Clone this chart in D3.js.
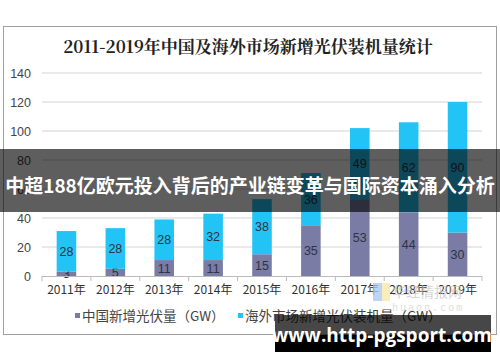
<!DOCTYPE html>
<html>
<head>
<meta charset="utf-8">
<script src="https://cdn.jsdelivr.net/npm/d3@7"></script>
<style>
  body { margin: 0; background: #fff; }
  svg { display: block; }
</style>
</head>
<body>
<svg id="chart"></svg>
<script>
// chart data
const years = ["2011年", "2012年", "2013年", "2014年", "2015年", "2016年", "2017年", "2018年", "2019年"];
const china_gw = [3, 5, 11, 11, 15, 35, 53, 44, 30];
const overseas_gw = [28, 28, 28, 32, 38, 36, 49, 62, 90];
const y_ticks = [0, 20, 40, 60, 80, 100, 120, 140];
const series_names = ["中国新增光伏量（GW）", "海外市场新增光伏装机量（GW）"];
const series_colors = ["#7a7ca6", "#22c3f5"];

const chart_title = "2011-2019年中国及海外市场新增光伏装机量统计";
const banner_text = "中超188亿欧元投入背后的产业链变革与国际资本涌入分析";
const site_text = "www.http-pgsport.com";

const width = 500, height = 362;
const cjk = "'Noto Sans CJK SC', 'Noto Sans', sans-serif";

var svg = d3.select("#chart")
            .attr("width", width)
            .attr("height", height);

// outer frame of the picture
svg.append("rect")
   .attr("x", 3.5).attr("y", 26.5)
   .attr("width", 493).attr("height", 308)
   .attr("fill", "#fff")
   .attr("stroke", "#a0a0a0");

svg.append("text")
   .attr("x", 248).attr("y", 53)
   .attr("text-anchor", "middle")
   .attr("font-family", "'Noto Serif CJK SC', 'Noto Sans CJK SC', serif")
   .attr("font-weight", "bold")
   .attr("font-size", 17)
   .attr("fill", "#222")
   .text(chart_title);

let x = d3.scaleBand()
          .domain(years)
          .range([42, 482])
          .paddingInner(0.6)
          .paddingOuter(0.3);

let y = d3.scaleLinear()
          .domain([0, 140])
          .range([276, 73]);

// gridlines
svg.append("g")
   .selectAll("line")
   .data(y_ticks.filter(d => d > 0))
   .enter()
   .append("line")
   .attr("x1", 42).attr("x2", 482)
   .attr("y1", d => y(d)).attr("y2", d => y(d))
   .attr("stroke", "#d4d4d4")
   .attr("stroke-width", 1.2);

// y labels
svg.append("g")
   .selectAll("text")
   .data(y_ticks)
   .enter()
   .append("text")
   .attr("x", 31)
   .attr("y", d => y(d) + 4.5)
   .attr("text-anchor", "end")
   .attr("font-family", "Arial, 'Liberation Sans', sans-serif")
   .attr("font-size", 12.5)
   .attr("fill", "#444")
   .text(d => d);

// stacked bars
let stack_rows = years.map((yr, i) => ({ year: yr, china: china_gw[i], overseas: overseas_gw[i] }));
let stacked = d3.stack().keys(["china", "overseas"])(stack_rows);

let layers = svg.append("g")
   .selectAll("g")
   .data(stacked)
   .enter()
   .append("g")
   .attr("fill", (d, i) => series_colors[i]);

layers.selectAll("rect")
   .data(d => d)
   .enter()
   .append("rect")
   .attr("x", d => x(d.data.year))
   .attr("width", x.bandwidth())
   .attr("y", d => y(d[1]))
   .attr("height", d => y(d[0]) - y(d[1]));

layers.selectAll("text")
   .data(d => d)
   .enter()
   .append("text")
   .attr("x", d => x(d.data.year) + x.bandwidth() / 2)
   .attr("y", d => (y(d[0]) + y(d[1])) / 2 + 4.5)
   .attr("text-anchor", "middle")
   .attr("font-family", "Arial, 'Liberation Sans', sans-serif")
   .attr("font-size", 12.5)
   .attr("fill", "#2f3440")
   .text(d => d[1] - d[0]);

// x axis
let x_axis = d3.axisBottom(x).tickSize(0).tickPadding(9);
let ax_g = svg.append("g")
   .attr("transform", "translate(0,276)")
   .call(x_axis);
ax_g.select(".domain").attr("stroke", "#bcbcbc").attr("d", "M42,0.5H482");
ax_g.selectAll("text")
   .attr("font-family", cjk)
   .attr("font-size", 12)
   .attr("fill", "#333");

// band separators on the axis
svg.append("g")
   .selectAll("line")
   .data(d3.range(years.length + 1))
   .enter()
   .append("line")
   .attr("x1", i => 42 + i * (440 / years.length))
   .attr("x2", i => 42 + i * (440 / years.length))
   .attr("y1", 276).attr("y2", 281)
   .attr("stroke", "#bcbcbc");

// watermark logo
let wm = svg.append("g").attr("opacity", 0.75);
wm.append("rect").attr("x", 373).attr("y", 283).attr("width", 9).attr("height", 18).attr("fill", "#a7c8f2");
wm.append("rect").attr("x", 382).attr("y", 283).attr("width", 8).attr("height", 18).attr("fill", "#f7e7a6");
wm.append("text")
   .attr("x", 392).attr("y", 297)
   .attr("font-family", cjk)
   .attr("font-size", 14)
   .attr("fill", "#c8c8c8")
   .text("华经情报网");
wm.append("text")
   .attr("x", 392).attr("y", 311)
   .attr("font-family", "'DejaVu Sans Mono', monospace")
   .attr("font-size", 10)
   .attr("letter-spacing", 2)
   .attr("fill", "#d4d4d4")
   .text("huaon.com");

// legend
let legend_x = [75, 238];
let legend = svg.append("g")
   .selectAll("g")
   .data(series_names)
   .enter()
   .append("g")
   .attr("transform", (d, i) => "translate(" + legend_x[i] + ",316)");
legend.append("rect")
   .attr("x", 0).attr("y", -3)
   .attr("width", 5).attr("height", 5)
   .attr("fill", (d, i) => series_colors[i]);
legend.append("text")
   .attr("x", 7).attr("y", 5)
   .attr("font-family", cjk)
   .attr("font-size", 13.5)
   .attr("fill", "#444")
   .text(d => d);

// dark banner with headline
svg.append("rect")
   .attr("x", 0).attr("y", 149)
   .attr("width", width).attr("height", 63)
   .attr("fill", "rgba(0,0,0,0.63)");
svg.append("text")
   .attr("x", 250).attr("y", 193)
   .attr("text-anchor", "middle")
   .attr("font-family", cjk)
   .attr("font-weight", "bold")
   .attr("font-size", 19)
   .attr("fill", "#fff")
   .text(banner_text);

// site label box
svg.append("rect")
   .attr("x", 275).attr("y", 315)
   .attr("width", 216).attr("height", 37)
   .attr("fill", "rgba(0,0,0,0.72)");
svg.append("rect")
   .attr("x", 275).attr("y", 335)
   .attr("width", 216).attr("height", 17)
   .attr("fill", "#000");
svg.append("text")
   .attr("x", 382).attr("y", 342)
   .attr("text-anchor", "middle")
   .attr("font-family", "'Open Sans', 'DejaVu Sans', sans-serif")
   .attr("font-weight", "bold")
   .attr("font-size", 19)
   .attr("fill", "#fff")
   .text(site_text);
</script>
</body>
</html>
